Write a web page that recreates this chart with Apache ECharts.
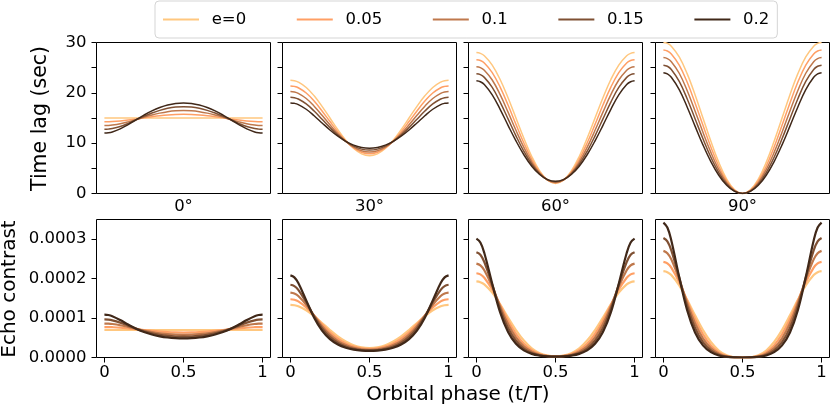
<!DOCTYPE html>
<html>
<head>
<meta charset="utf-8">
<script src="https://cdn.jsdelivr.net/npm/echarts@6/dist/echarts.min.js"></script>
<style>
html,body{margin:0;padding:0;background:#fff;}
#chart{width:831px;height:410px;}
</style>
</head>
<body>
<div id="chart"></div>
<script>
// ---------- data ----------
const phase = [0,0.025,0.05,0.1,0.15,0.2,0.25,0.3,0.35,0.4,0.45,0.5,0.55,0.6,0.65,0.7,0.75,0.8,0.85,0.9,0.95,0.975,1];
const eLabels = ['e=0','0.05','0.1','0.15','0.2'];
const inclinationTitles = ['0°','30°','60°','90°'];
const lineColors = ['#ffc77f','#ff9f65','#bf784c','#7f5033','#402819'];

// time lag (sec), one array per eccentricity
const lagInc0 = [
  [15,15,15,15,15,15,15,15,15,15,15,15,15,15,15,15,15,15,15,15,15,15,15],
  [14.25,14.26,14.29,14.41,14.58,14.80,15.04,15.26,15.46,15.62,15.72,15.75,15.72,15.62,15.46,15.26,15.04,14.80,14.58,14.41,14.29,14.26,14.25],
  [13.50,13.52,13.59,13.85,14.23,14.68,15.15,15.59,15.97,16.26,16.44,16.50,16.44,16.26,15.97,15.59,15.15,14.68,14.23,13.85,13.59,13.52,13.50],
  [12.75,12.79,12.90,13.32,13.93,14.63,15.33,15.98,16.52,16.92,17.17,17.25,17.17,16.92,16.52,15.98,15.33,14.63,13.93,13.32,12.90,12.79,12.75],
  [12.00,12.06,12.23,12.84,13.70,14.65,15.58,16.41,17.09,17.59,17.90,18.00,17.90,17.59,17.09,16.41,15.58,14.65,13.70,12.84,12.23,12.06,12.00]
];
const lagInc30 = [
  [22.50,22.41,22.13,21.07,19.41,17.32,15.00,12.68,10.59,8.93,7.87,7.50,7.87,8.93,10.59,12.68,15.00,17.32,19.41,21.07,22.13,22.41,22.50],
  [21.38,21.28,21.01,19.96,18.36,16.40,14.29,12.24,10.44,9.05,8.18,7.88,8.18,9.05,10.44,12.24,14.29,16.40,18.36,19.96,21.01,21.28,21.38],
  [20.25,20.16,19.89,18.87,17.35,15.54,13.65,11.88,10.36,9.21,8.49,8.25,8.49,9.21,10.36,11.88,13.65,15.54,17.35,18.87,19.89,20.16,20.25],
  [19.13,19.04,18.77,17.79,16.38,14.74,13.10,11.59,10.34,9.40,8.82,8.63,8.82,9.40,10.34,11.59,13.10,14.74,16.38,17.79,18.77,19.04,19.13],
  [18.00,17.91,17.66,16.74,15.45,14.02,12.62,11.38,10.36,9.61,9.15,9.00,9.15,9.61,10.36,11.38,12.62,14.02,15.45,16.74,17.66,17.91,18.00]
];
const lagInc60 = [
  [27.99,27.83,27.36,25.51,22.64,19.01,15.00,10.99,7.36,4.49,2.65,2.01,2.65,4.49,7.36,10.99,15.00,19.01,22.64,25.51,27.36,27.83,27.99],
  [26.59,26.42,25.93,24.03,21.13,17.57,13.74,10.03,6.77,4.25,2.66,2.11,2.66,4.25,6.77,10.03,13.74,17.57,21.13,24.03,25.93,26.42,26.59],
  [25.19,25.02,24.50,22.55,19.64,16.17,12.56,9.16,6.26,4.05,2.68,2.21,2.68,4.05,6.26,9.16,12.56,16.17,19.64,22.55,24.50,25.02,25.19],
  [23.79,23.61,23.07,21.07,18.17,14.83,11.46,8.38,5.81,3.90,2.71,2.31,2.71,3.90,5.81,8.38,11.46,14.83,18.17,21.07,23.07,23.61,23.79],
  [22.39,22.20,21.64,19.59,16.73,13.55,10.46,7.70,5.43,3.77,2.75,2.41,2.75,3.77,5.43,7.70,10.46,13.55,16.73,19.59,21.64,22.20,22.39]
];
const lagInc90 = [
  [30.00,29.82,29.27,27.14,23.82,19.64,15.00,10.36,6.18,2.87,0.73,0.00,0.73,2.87,6.18,10.36,15.00,19.64,23.82,27.14,29.27,29.82,30.00],
  [28.50,28.31,27.73,25.52,22.14,18.00,13.54,9.22,5.42,2.49,0.63,0.00,0.63,2.49,5.42,9.22,13.54,18.00,22.14,25.52,27.73,28.31,28.50],
  [27.00,26.80,26.19,23.89,20.47,16.40,12.16,8.17,4.76,2.16,0.55,0.00,0.55,2.16,4.76,8.17,12.16,16.40,20.47,23.89,26.19,26.80,27.00],
  [25.50,25.28,24.65,22.27,18.83,14.86,10.87,7.21,4.16,1.88,0.47,0.00,0.47,1.88,4.16,7.21,10.87,14.86,18.83,22.27,24.65,25.28,25.50],
  [24.00,23.77,23.10,20.64,17.20,13.38,9.66,6.35,3.63,1.63,0.41,0.00,0.41,1.63,3.63,6.35,9.66,13.38,17.20,20.64,23.10,23.77,24.00]
];

// echo contrast, in units of 1e-4
const echoInc0 = [
  [0.697,0.697,0.697,0.697,0.697,0.697,0.697,0.697,0.697,0.697,0.697,0.697,0.697,0.697,0.697,0.697,0.697,0.697,0.697,0.697,0.697,0.697,0.697],
  [0.772,0.771,0.768,0.756,0.737,0.716,0.694,0.673,0.656,0.643,0.635,0.632,0.635,0.643,0.656,0.673,0.694,0.716,0.737,0.756,0.768,0.771,0.772],
  [0.861,0.858,0.849,0.818,0.775,0.728,0.683,0.645,0.615,0.593,0.580,0.576,0.580,0.593,0.615,0.645,0.683,0.728,0.775,0.818,0.849,0.858,0.861],
  [0.965,0.959,0.942,0.884,0.809,0.733,0.667,0.614,0.575,0.548,0.532,0.527,0.532,0.548,0.575,0.614,0.667,0.733,0.809,0.884,0.942,0.959,0.965],
  [1.089,1.079,1.049,0.951,0.836,0.730,0.646,0.582,0.537,0.507,0.490,0.484,0.490,0.507,0.537,0.582,0.646,0.730,0.836,0.951,1.049,1.079,1.089]
];
const echoInc30 = [
  [1.334,1.325,1.298,1.198,1.049,0.875,0.697,0.536,0.406,0.312,0.257,0.239,0.257,0.312,0.406,0.536,0.697,0.875,1.049,1.198,1.298,1.325,1.334],
  [1.478,1.464,1.422,1.270,1.062,0.841,0.640,0.477,0.356,0.276,0.231,0.217,0.231,0.276,0.356,0.477,0.640,0.841,1.062,1.270,1.422,1.464,1.478],
  [1.647,1.624,1.561,1.339,1.061,0.796,0.581,0.422,0.314,0.246,0.209,0.197,0.209,0.246,0.314,0.422,0.581,0.796,1.061,1.339,1.561,1.624,1.647],
  [1.846,1.812,1.716,1.401,1.044,0.742,0.522,0.373,0.278,0.221,0.190,0.181,0.190,0.221,0.278,0.373,0.522,0.742,1.044,1.401,1.716,1.812,1.846],
  [2.084,2.032,1.888,1.449,1.010,0.681,0.465,0.329,0.247,0.199,0.174,0.166,0.174,0.199,0.247,0.329,0.465,0.681,1.010,1.449,1.888,2.032,2.084]
];
const echoInc60 = [
  [1.929,1.910,1.853,1.644,1.347,1.015,0.697,0.429,0.232,0.109,0.049,0.032,0.049,0.109,0.232,0.429,0.697,1.015,1.347,1.644,1.853,1.910,1.929],
  [2.137,2.108,2.024,1.724,1.332,0.938,0.602,0.350,0.183,0.087,0.042,0.029,0.042,0.087,0.183,0.350,0.602,0.938,1.332,1.724,2.024,2.108,2.137],
  [2.382,2.338,2.213,1.794,1.295,0.848,0.510,0.283,0.145,0.071,0.036,0.027,0.036,0.071,0.145,0.283,0.510,0.848,1.295,1.794,2.213,2.338,2.382],
  [2.670,2.605,2.422,1.846,1.233,0.749,0.424,0.227,0.115,0.058,0.032,0.025,0.032,0.058,0.115,0.227,0.424,0.749,1.233,1.846,2.422,2.605,2.670],
  [3.014,2.916,2.649,1.872,1.146,0.646,0.347,0.181,0.092,0.048,0.028,0.023,0.028,0.048,0.092,0.181,0.347,0.646,1.146,1.872,2.649,2.916,3.014]
];
const echoInc90 = [
  [2.190,2.164,2.090,1.827,1.465,1.069,0.697,0.392,0.178,0.055,0.007,0,0.007,0.055,0.178,0.392,0.697,1.069,1.465,1.827,2.090,2.164,2.190],
  [2.427,2.388,2.280,1.910,1.439,0.975,0.589,0.308,0.131,0.039,0.005,0,0.005,0.039,0.131,0.308,0.589,0.975,1.439,1.910,2.280,2.388,2.427],
  [2.704,2.647,2.489,1.978,1.386,0.867,0.485,0.237,0.096,0.027,0.003,0,0.003,0.027,0.096,0.237,0.485,0.867,1.386,1.978,2.489,2.647,2.704],
  [3.031,2.947,2.719,2.025,1.306,0.751,0.390,0.180,0.069,0.019,0.002,0,0.002,0.019,0.069,0.180,0.390,0.751,1.306,2.025,2.719,2.947,3.031],
  [3.422,3.297,2.969,2.041,1.198,0.634,0.308,0.135,0.050,0.014,0.002,0,0.002,0.014,0.050,0.135,0.308,0.634,1.198,2.041,2.969,3.297,3.422]
];

// ticks
const phaseTickVals = [0, 0.5, 1];
const phaseTickLabels = ['0', '0.5', '1'];
const lagTickVals = [0, 5, 10, 15, 20, 25, 30];
const lagLabelVals = [0, 10, 20, 30];
const lagLabelTexts = ['0', '10', '20', '30'];
const echoTickVals = [0, 1, 2, 3];
const echoTickLabels = ['0.0000', '0.0001', '0.0002', '0.0003'];

// ---------- layout ----------
const FONT = 'DejaVu Sans';
const colLeft = [96.5, 282.5, 468.5, 655.5];
const colW = 174;
const rowTop = [42.5, 219.5];
const rowH = [151, 138];

const panels = [
  {row:0, col:0, data:lagInc0}, {row:0, col:1, data:lagInc30}, {row:0, col:2, data:lagInc60}, {row:0, col:3, data:lagInc90},
  {row:1, col:0, data:echoInc0}, {row:1, col:1, data:echoInc30}, {row:1, col:2, data:echoInc60}, {row:1, col:3, data:echoInc90}
];

const grids = [], xAxes = [], yAxes = [], series = [];
panels.forEach((p, idx) => {
  grids.push({left: colLeft[p.col], top: rowTop[p.row], width: colW, height: rowH[p.row],
    show: true, borderColor: '#000', borderWidth: 1, backgroundColor: 'transparent'});
  const bottom = p.row === 1;
  xAxes.push({
    type: 'value', gridIndex: idx, min: -0.05, max: 1.05, position: 'bottom',
    axisLine: {show: false, onZero: false}, splitLine: {show: false},
    axisTick: {show: bottom, inside: false, customValues: phaseTickVals, length: 5, lineStyle: {color: '#000', width: 1}},
    axisLabel: {show: bottom, customValues: phaseTickVals, margin: 7, fontSize: 16.5, fontFamily: FONT, color: '#000',
      formatter: v => phaseTickLabels[phaseTickVals.indexOf(v)] ?? ''}
  });
  if (!bottom) {
    yAxes.push({
      type: 'value', gridIndex: idx, min: 0, max: 30, position: 'left',
      axisLine: {show: false, onZero: false}, splitLine: {show: false},
      axisTick: {show: true, inside: false, customValues: lagTickVals, length: 5, lineStyle: {color: '#000', width: 1}},
      axisLabel: {show: p.col === 0, customValues: lagLabelVals, margin: 10, fontSize: 16.5, fontFamily: FONT, color: '#000',
        formatter: v => lagLabelTexts[lagLabelVals.indexOf(v)] ?? ''}
    });
  } else {
    yAxes.push({
      type: 'value', gridIndex: idx, min: 0, max: 3.5, position: 'left',
      axisLine: {show: false, onZero: false}, splitLine: {show: false},
      axisTick: {show: true, inside: false, customValues: echoTickVals, length: 5, lineStyle: {color: '#000', width: 1}},
      axisLabel: {show: p.col === 0, customValues: echoTickVals, margin: 10, fontSize: 16.5, fontFamily: FONT, color: '#000',
        formatter: v => echoTickLabels[echoTickVals.indexOf(v)] ?? ''}
    });
  }
  p.data.forEach((vals, k) => {
    series.push({
      type: 'line', name: eLabels[k], xAxisIndex: idx, yAxisIndex: idx,
      data: phase.map((x, j) => [x, vals[j]]),
      symbol: 'none', showSymbol: false, smooth: 0.4,
      lineStyle: {color: lineColors[k], width: bottom ? 2.2 : 1.5},
      itemStyle: {color: lineColors[k]},
      z: 2 + k, silent: true
    });
  });
});

const graphics = [];
inclinationTitles.forEach((t, c) => {
  graphics.push({type: 'text', x: colLeft[c] + colW / 2, y: 207,
    style: {text: t, fontSize: 16.5, fontFamily: FONT, fill: '#000', align: 'center', verticalAlign: 'middle',
      textAlign: 'center', textVerticalAlign: 'middle'}});
});
graphics.push({type: 'text', x: 41, y: 118.5, rotation: Math.PI / 2,
  style: {text: 'Time lag (sec)', fontSize: 20.5, fontFamily: FONT, fill: '#000', align: 'center', verticalAlign: 'middle',
    textAlign: 'center', textVerticalAlign: 'middle'}});
graphics.push({type: 'text', x: 10, y: 289, rotation: Math.PI / 2,
  style: {text: 'Echo contrast', fontSize: 20, fontFamily: FONT, fill: '#000', align: 'center', verticalAlign: 'middle',
    textAlign: 'center', textVerticalAlign: 'middle'}});
graphics.push({type: 'text', x: 458, y: 395,
  style: {text: 'Orbital phase (t/T)', fontSize: 20, fontFamily: FONT, fill: '#000', align: 'center', verticalAlign: 'middle',
    textAlign: 'center', textVerticalAlign: 'middle'}});

const chart = echarts.init(document.getElementById('chart'), null, {renderer: 'canvas'});
chart.setOption({
  animation: false,
  backgroundColor: '#fff',
  textStyle: {fontFamily: FONT},
  legend: {
    data: eLabels, left: 155, top: 1, orient: 'horizontal',
    itemWidth: 36, itemHeight: 2, itemGap: 49.6,
    padding: [10, 8, 10, 7],
    borderColor: '#d5d5d5', borderWidth: 1, borderRadius: 4,
    lineStyle: {width: 2},
    itemStyle: {opacity: 0},
    textStyle: {fontSize: 16.5, fontFamily: FONT, color: '#000', padding: [0, 0, 0, 7.7]},
    selectedMode: false
  },
  grid: grids,
  xAxis: xAxes,
  yAxis: yAxes,
  series: series,
  graphic: graphics
});
</script>
</body>
</html>
